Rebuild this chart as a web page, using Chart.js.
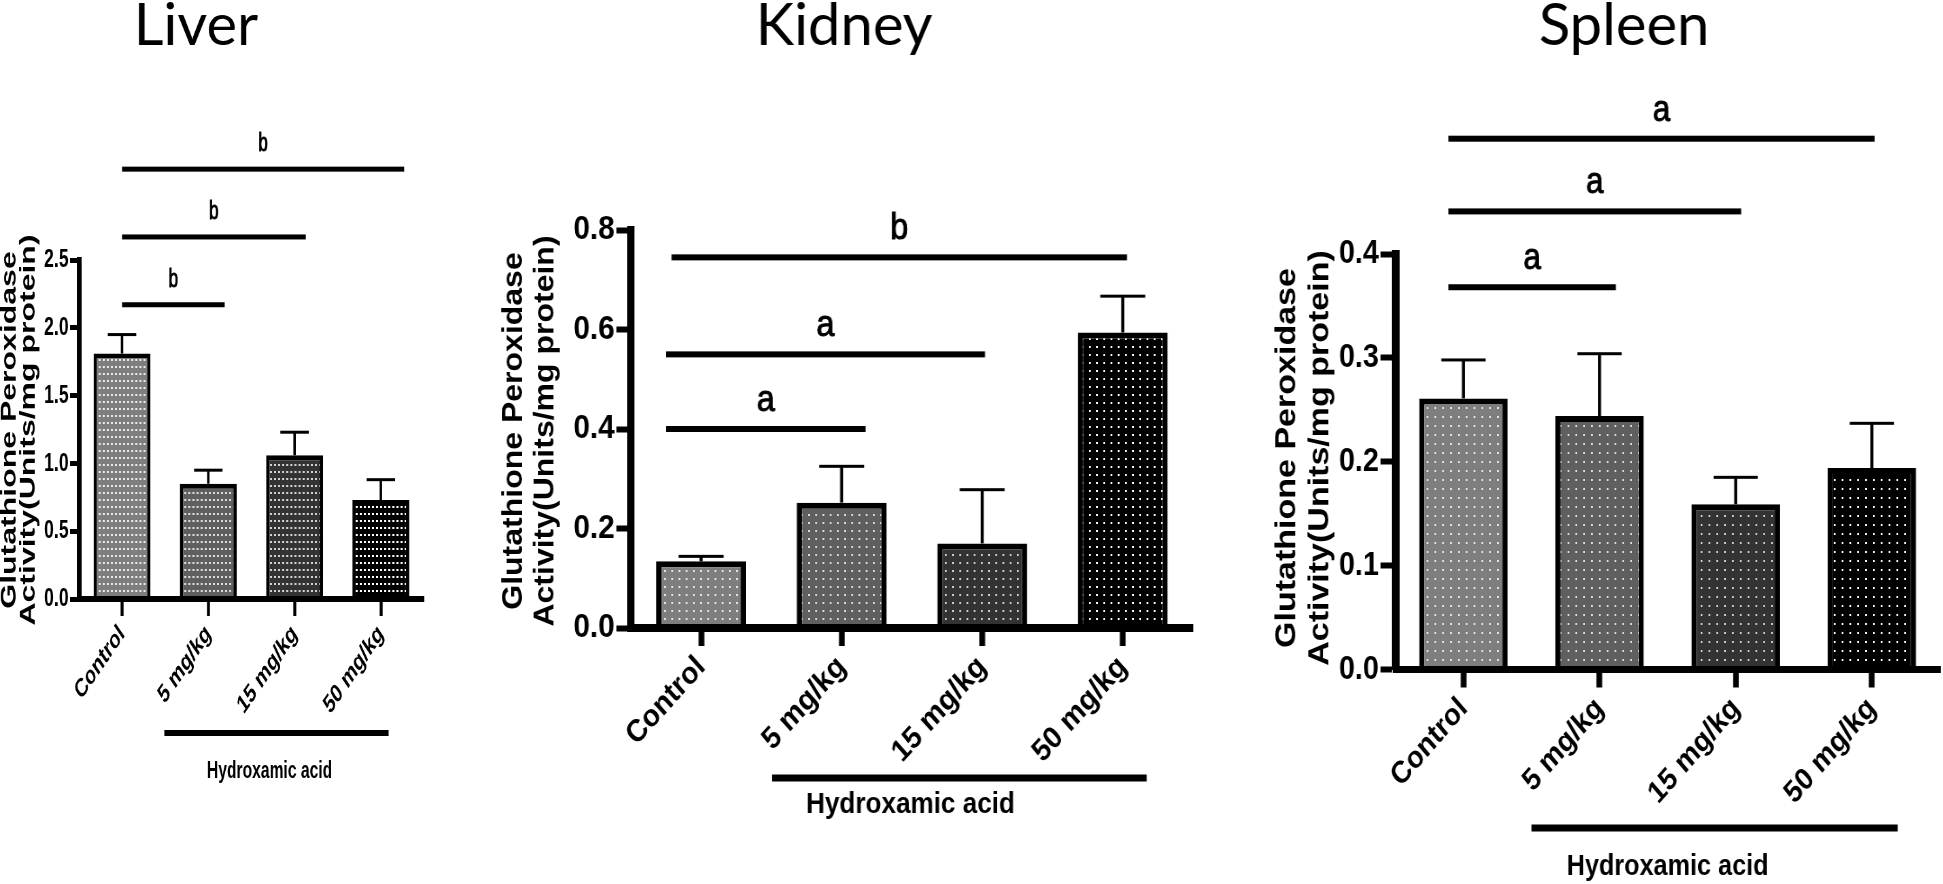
<!DOCTYPE html>
<html>
<head>
<meta charset="utf-8">
<script src="https://cdn.jsdelivr.net/npm/chart.js@4.4.0/dist/chart.umd.min.js"></script>
<style>
  html, body { margin: 0; padding: 0; background: #fff; }
  body { width: 1943px; height: 884px; position: relative; overflow: hidden; }
  .panel { position: absolute; top: 0; height: 884px; transform-origin: 0 0; }
  .panel canvas { display: block; }
</style>
</head>
<body>
<script>
const H = 884;
const FONT = '"Liberation Sans", Arial, sans-serif';

// shared labels
const groups = ['Control', '5 mg/kg', '15 mg/kg', '50 mg/kg'];
const groupLabel = 'Hydroxamic acid';
const yTitle = ['Glutathione Peroxidase', 'Activity(Units/mg protein)'];

// Liver
const liverMean = [1.81, 0.85, 1.06, 0.73];
const liverSem = [0.14, 0.10, 0.17, 0.15];
const liverSigY = [2.17, 2.67, 3.17];
const liverSigFrom = [0, 0, 0];
const liverSigTo = [1.19, 2.13, 3.27];
const liverSigTxt = ['b', 'b', 'b'];

// Kidney
const kidneyMean = [0.134, 0.252, 0.17, 0.594];
const kidneySem = [0.01, 0.073, 0.108, 0.073];
const kidneySigY = [0.40, 0.55, 0.745];
const kidneySigFrom = [-0.25, -0.25, -0.21];
const kidneySigTo = [1.17, 2.02, 3.03];
const kidneySigTxt = ['a', 'a', 'b'];

// Spleen
const spleenMean = [0.261, 0.244, 0.159, 0.194];
const spleenSem = [0.037, 0.06, 0.026, 0.043];
const spleenSigY = [0.368, 0.441, 0.511];
const spleenSigFrom = [-0.11, -0.11, -0.11];
const spleenSigTo = [1.12, 2.04, 3.02];
const spleenSigTxt = ['a', 'a', 'a'];

// bar fills (base grey + dot colour)
const fills = ['#7e7e7e', '#5f5f5f', '#333333', '#000000'];
const dots = ['#e8e8e8', '#dddddd', '#d0d0d0', '#ffffff'];

//! panel layout, in canvas units (each canvas is squeezed sideways by sx)
const panels = [
  { id: 'liver', name: 'Liver', left: 0, sx: 0.68, w: 647, area: [116, 623.5, 260, 599],
    max: 2.5, step: 0.5, mean: liverMean, sem: liverSem,
    sigY: liverSigY, sigFrom: liverSigFrom, sigTo: liverSigTo, sigTxt: liverSigTxt,
    titleX: 288, axisX: [14, 42], axisY: 430, axisFont: 32,
    tickFont: 26, labFont: 26, sigFont: 25, grpFont: 23,
    yBorder: 7, xBorder: 6, yTick: [13, 5], xTick: [17, 4.4], tickPad: 3,
    barPct: 0.66, bw: 5, tile: [6, 7, 3, 2], sigW: 5, errW: [3.6, 3],
    grp: [0.49, 3.09, 134, 1.71, 173, 6] },
  { id: 'kidney', name: 'Kidney', left: 440, sx: 0.9, w: 878, area: [212, 836.7, 230, 628],
    max: 0.8, step: 0.2, mean: kidneyMean, sem: kidneySem,
    sigY: kidneySigY, sigFrom: kidneySigFrom, sigTo: kidneySigTo, sigTxt: kidneySigTxt,
    titleX: 449, axisX: [82, 117], axisY: 431, axisFont: 32,
    tickFont: 33, labFont: 31, sigFont: 36, grpFont: 29,
    yBorder: 8, xBorder: 8, yTick: [16, 6], xTick: [18, 6.4], tickPad: 3,
    barPct: 0.64, bw: 6, tile: [8, 8, 2, 2], sigW: 6, errW: [3.4, 3],
    grp: [0.505, 3.17, 150, 1.49, 177, 7] },
  { id: 'spleen', name: 'Spleen', left: 1230, sx: 0.87, w: 820, area: [190, 816, 254, 669.5],
    max: 0.4, step: 0.1, mean: spleenMean, sem: spleenSem,
    sigY: spleenSigY, sigFrom: spleenSigFrom, sigTo: spleenSigTo, sigTxt: spleenSigTxt,
    titleX: 453, axisX: [66, 104], axisY: 458, axisFont: 34,
    tickFont: 33, labFont: 31, sigFont: 36, grpFont: 29,
    yBorder: 9, xBorder: 7, yTick: [17, 6], xTick: [18, 6.6], tickPad: 3,
    barPct: 0.65, bw: 6, tile: [9, 9, 2, 2], sigW: 6, errW: [3.4, 3],
    grp: [0.5, 3.19, 158.5, 1.5, 197, 7] }
];

function dotPattern(ctx, base, dot, t) {
  let tile = document.createElement('canvas');
  tile.width = t[0];
  tile.height = t[1];
  let g = tile.getContext('2d');
  g.fillStyle = base;
  g.fillRect(0, 0, t[0], t[1]);
  g.fillStyle = dot;
  g.fillRect(1, 2, t[2], t[3]);
  return ctx.createPattern(tile, 'repeat');
}

function extras(p) {
  return {
    id: 'extras_' + p.id,
    afterDatasetsDraw(chart) {
      //! error bars (upper only)
      let ctx = chart.ctx;
      let y = chart.scales.y;
      ctx.save();
      ctx.fillStyle = '#000';
      chart.getDatasetMeta(0).data.forEach((bar, i) => {
        let top = y.getPixelForValue(p.mean[i] + p.sem[i]);
        let half = bar.width * 0.25;
        ctx.fillRect(bar.x - p.errW[0] / 2, top, p.errW[0], bar.y - top);
        ctx.fillRect(bar.x - half, top - p.errW[1] / 2, half * 2, p.errW[1]);
      });
      ctx.restore();
    },
    afterDraw(chart) {
      let ctx = chart.ctx;
      let x = chart.scales.x;
      let y = chart.scales.y;
      let bottom = chart.chartArea.bottom;
      ctx.save();
      ctx.fillStyle = '#000';
      ctx.strokeStyle = '#000';

      //! significance lines + letters
      p.sigY.forEach((v, i) => {
        let yy = y.getPixelForValue(v);
        let x1 = x.getPixelForValue(p.sigFrom[i]);
        let x2 = x.getPixelForValue(p.sigTo[i]);
        ctx.fillRect(x1, yy - p.sigW / 2, x2 - x1, p.sigW);
        ctx.font = `${p.sigFont}px ${FONT}`;
        ctx.textAlign = 'center';
        ctx.textBaseline = 'alphabetic';
        ctx.lineWidth = 1;
        ctx.fillText(p.sigTxt[i], (x1 + x2) / 2, yy - 18);
        ctx.strokeText(p.sigTxt[i], (x1 + x2) / 2, yy - 18);
      });

      //! treatment group bar under the axis
      let g = p.grp;
      let gx1 = x.getPixelForValue(g[0]);
      let gx2 = x.getPixelForValue(g[1]);
      ctx.fillRect(gx1, bottom + g[2] - g[5] / 2, gx2 - gx1, g[5]);
      ctx.font = `bold ${p.grpFont}px ${FONT}`;
      ctx.textAlign = 'center';
      ctx.textBaseline = 'middle';
      ctx.fillText(groupLabel, x.getPixelForValue(g[3]), bottom + g[4]);

      //! y axis title, two lines
      yTitle.forEach((line, i) => {
        ctx.save();
        ctx.translate(p.axisX[i], p.axisY);
        ctx.rotate(-Math.PI / 2);
        ctx.font = `bold ${p.axisFont}px ${FONT}`;
        ctx.textAlign = 'center';
        ctx.textBaseline = 'middle';
        ctx.fillText(line, 0, 0);
        ctx.restore();
      });

      //! panel title (undo the sideways squeeze)
      ctx.translate(p.titleX, 45);
      ctx.scale(1 / p.sx, 1);
      ctx.font = '58px Lato, "Open Sans", sans-serif';
      ctx.textAlign = 'center';
      ctx.textBaseline = 'alphabetic';
      ctx.fillText(p.name, 0, 0);
      ctx.restore();
    }
  };
}

function buildPanel(p) {
  let wrap = document.createElement('div');
  wrap.className = 'panel';
  wrap.style.left = p.left + 'px';
  wrap.style.width = p.w + 'px';
  wrap.style.transform = `scaleX(${p.sx})`;
  let cv = document.createElement('canvas');
  cv.width = p.w;
  cv.height = H;
  cv.style.width = p.w + 'px';
  cv.style.height = H + 'px';
  wrap.appendChild(cv);
  document.body.appendChild(wrap);

  let ctx = cv.getContext('2d');
  let bg = fills.map((f, i) => dotPattern(ctx, f, dots[i], p.tile));

  return new Chart(ctx, {
    type: 'bar',
    data: {
      labels: groups,
      datasets: [{
        data: p.mean,
        backgroundColor: bg,
        borderColor: '#000',
        borderWidth: p.bw,
        barPercentage: p.barPct,
        categoryPercentage: 1
      }]
    },
    options: {
      responsive: false,
      animation: false,
      devicePixelRatio: 1,
      layout: { padding: { left: 0, top: p.area[2], right: p.w - p.area[1], bottom: 0 } },
      plugins: { legend: { display: false }, tooltip: { enabled: false } },
      scales: {
        x: {
          afterFit: (s) => { s.height = H - p.area[3]; },
          grid: { offset: false, drawOnChartArea: false, tickLength: p.xTick[0], tickWidth: p.xTick[1], tickColor: '#000', color: '#000' },
          border: { color: '#000', width: p.xBorder, z: 1 },
          ticks: {
            color: '#000', autoSkip: false, minRotation: 45, maxRotation: 45, padding: p.tickPad,
            font: { family: FONT, weight: 'bold', size: p.labFont }
          }
        },
        y: {
          min: 0,
          max: p.max,
          afterFit: (s) => { s.width = p.area[0]; },
          grid: { drawOnChartArea: false, tickLength: p.yTick[0], tickWidth: p.yTick[1], tickColor: '#000', color: '#000' },
          border: { color: '#000', width: p.yBorder, z: 1 },
          ticks: {
            stepSize: p.step, color: '#000', padding: 2,
            callback: (v) => v.toFixed(1),
            font: { family: FONT, weight: 'bold', size: p.tickFont }
          }
        }
      }
    },
    plugins: [extras(p)]
  });
}

panels.forEach(buildPanel);
</script>
</body>
</html>
